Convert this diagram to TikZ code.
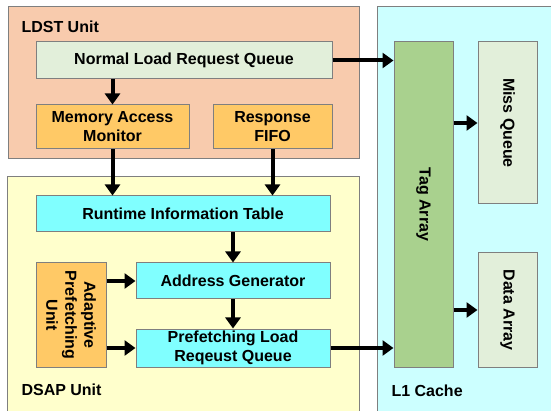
\documentclass[tikz,border=0pt]{standalone}
\usepackage{fontspec}
\setmainfont{Liberation Sans}
\usetikzlibrary{arrows.meta}
\definecolor{ldst}{HTML}{F8CBAD}
\definecolor{dsap}{HTML}{FFFFCC}
\definecolor{lone}{HTML}{CCFFFF}
\definecolor{palegreen}{HTML}{E2EFDA}
\definecolor{orangebox}{HTML}{FFC966}
\definecolor{cyanbox}{HTML}{80FFFF}
\definecolor{taggreen}{HTML}{A9D18E}
\definecolor{edge}{HTML}{7F7F7F}
\begin{document}
\begin{tikzpicture}[x=1pt,y=-1pt,
  lbl/.style={font=\fontsize{16}{17}\selectfont\bfseries},
  region/.style={draw=edge,line width=1pt},
  blk/.style={draw=edge,line width=1pt,font=\fontsize{16}{19}\selectfont\bfseries,align=center,inner sep=0pt},
  rtxt/.style={font=\fontsize{16}{19}\selectfont\bfseries,align=center,rotate=-90,inner sep=0pt},
  arr/.style={line width=4pt,-{Triangle[length=11pt,width=15pt]}},
  line join=miter]
\useasboundingbox (0,0) rectangle (551,411);
% regions
\fill[ldst] (8,7) rectangle (359,159);
\draw[region] (8,7) rectangle (359,159);
\fill[dsap] (7,177) rectangle (359,415);
\draw[region] (7,415) -- (7,177) -- (359,177) -- (359,415);
\fill[lone] (377,7) rectangle (555,415);
\draw[region] (377,415) -- (377,7) -- (555,7);
\node[lbl,anchor=west] (ldstlbl) at (18,27) {LDST Unit};
\node[lbl,anchor=west] (dsaplbl) at (18,390) {DSAP Unit};
\node[lbl,anchor=west] (l1lbl) at (388,391) {L1 Cache};
% blocks
\node[blk,fill=palegreen,minimum width=296pt,minimum height=37pt] (nlrq) at (184,60.5) {Normal Load Request Queue};
\node[blk,fill=orangebox,minimum width=153pt,minimum height=44pt] (mam) at (112.5,127) {Memory Access\\Monitor};
\node[blk,fill=orangebox,minimum width=119pt,minimum height=44pt] (fifo) at (272.5,127) {Response\\FIFO};
\node[blk,fill=cyanbox,minimum width=294pt,minimum height=36pt] (rit) at (183,214) {Runtime Information Table};
\node[blk,fill=cyanbox,minimum width=194pt,minimum height=36pt] (ag) at (233,281) {Address Generator};
\node[blk,fill=cyanbox,minimum width=194pt,minimum height=38pt] (plrq) at (233,348) {Prefetching Load\\Reqeust Queue};
\node[blk,fill=orangebox,minimum width=70pt,minimum height=104pt] (apu) at (71,315) {};
\node[rtxt] (aputxt) at (apu.center) {Adaptive\\Prefetching\\Unit};
\node[blk,fill=taggreen,minimum width=59pt,minimum height=325pt] (tag) at (423.5,204.5) {};
\node[rtxt] (tagtxt) at (tag.center) {Tag Array};
\node[blk,fill=palegreen,minimum width=59pt,minimum height=162pt] (miss) at (507.5,123) {};
\node[rtxt] (misstxt) at (miss.center) {Miss Queue};
\node[blk,fill=palegreen,minimum width=59pt,minimum height=114pt] (data) at (507.5,310) {};
\node[rtxt] (datatxt) at (data.center) {Data Array};
% arrows
\draw[arr] (nlrq.south -| mam.north) -- (mam.north);
\draw[arr] (mam.south) -- (mam.south |- rit.north);
\draw[arr] (fifo.south) -- (fifo.south |- rit.north);
\draw[arr] (rit.south -| ag.north) -- (ag.north);
\draw[arr] (ag.south) -- (plrq.north);
\draw[arr] (apu.east |- ag.west) -- (ag.west);
\draw[arr] (apu.east |- plrq.west) -- (plrq.west);
\draw[arr] (nlrq.east) -- (nlrq.east -| tag.west);
\draw[arr] (plrq.east) -- (plrq.east -| tag.west);
\draw[arr] (tag.east |- miss.west) -- (miss.west);
\draw[arr] (tag.east |- data.west) -- (data.west);
\end{tikzpicture}
\end{document}
